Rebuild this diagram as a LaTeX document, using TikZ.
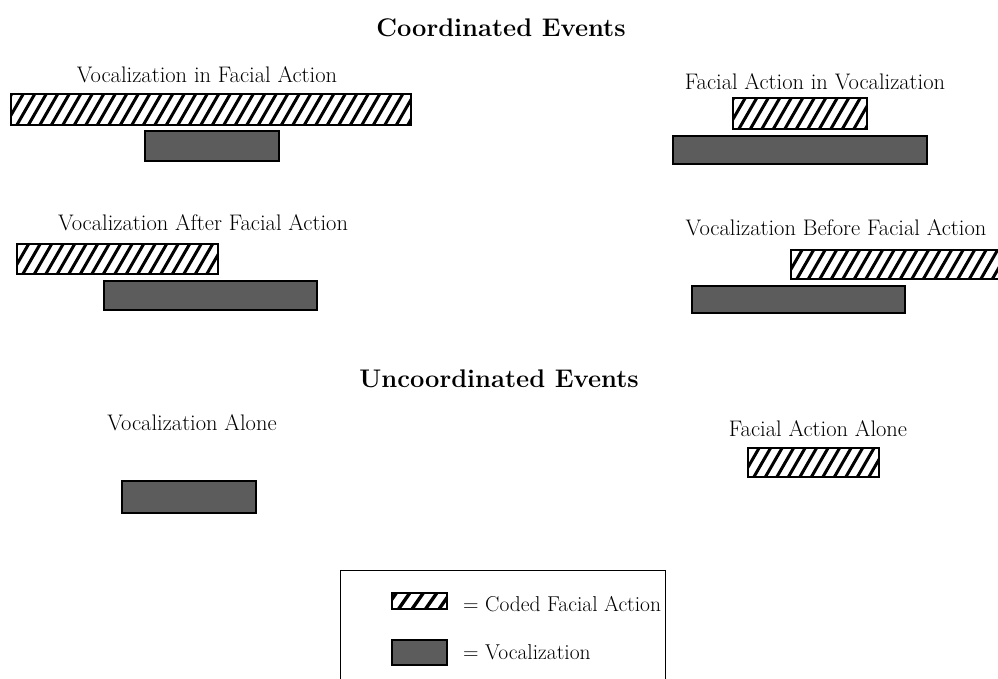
\documentclass[tikz,border=0pt]{standalone}
\tikzset{
  barbase/.style={draw=black, line width=1.8pt, inner sep=0pt, anchor=north west, rectangle},
  hatchbar/.style={barbase, path picture={
      \foreach \i in {-40,-28.5,...,430}
        \draw[line width=3pt] ([xshift=\i pt]path picture bounding box.south west) -- ++(60:70pt);
    }},
  leghatch/.style={barbase, line width=1.5pt, path picture={
      \foreach \i in {-20,-6.5,...,70}
        \draw[line width=3.4pt] ([xshift=\i pt]path picture bounding box.south west) -- ++(55:40pt);
    }},
  voicebar/.style={barbase, fill=black!64},
  lbl/.style={font=\fontsize{22.5}{25}\selectfont, inner sep=0pt},
  leglbl/.style={font=\fontsize{21.5}{25}\selectfont, inner sep=0pt, anchor=west},
  ttl/.style={font=\bfseries\fontsize{25.5}{28}\selectfont, inner sep=0pt},
  legbox/.style={draw=black, line width=1.2pt, inner sep=0pt, anchor=north west, rectangle}
}
\begin{document}
\begin{tikzpicture}[x=1pt,y=-1pt]
\useasboundingbox (0,0) rectangle (998,679);
\fill[white] (0,0) rectangle (998,679);
\begin{scope}
\clip (0,0) rectangle (998,679);
% titles
\node[ttl] (t1) at (501,28) {Coordinated Events};
\node[ttl] (t2) at (499,379) {Uncoordinated Events};
% group 1
\node[lbl] (l1) at (207,75) {Vocalization in Facial Action};
\node[hatchbar, minimum width=400pt, minimum height=31pt] (h1) at (10,93) {};
\node[voicebar, minimum width=134pt, minimum height=30pt] (v1) at (144,130) {};
% group 2
\node[lbl] (l2) at (815,82) {Facial Action in Vocalization};
\node[hatchbar, minimum width=134pt, minimum height=31pt] (h2) at (732,97) {};
\node[voicebar, minimum width=254pt, minimum height=28pt] (v2) at (672,135) {};
% group 3
\node[lbl] (l3) at (203,223) {Vocalization After Facial Action};
\node[hatchbar, minimum width=201pt, minimum height=30pt] (h3) at (16,243) {};
\node[voicebar, minimum width=213pt, minimum height=29pt] (v3) at (103,280) {};
% group 4
\node[lbl] (l4) at (836,228) {Vocalization Before Facial Action};
\node[hatchbar, minimum width=220pt, minimum height=29pt] (h4) at (790,249) {};
\node[voicebar, minimum width=213pt, minimum height=27pt] (v4) at (691,285) {};
% uncoordinated
\node[lbl] (l5) at (192,423) {Vocalization Alone};
\node[voicebar, minimum width=134pt, minimum height=32pt] (v5) at (121,480) {};
\node[lbl] (l6) at (818,429) {Facial Action Alone};
\node[hatchbar, minimum width=131pt, minimum height=29pt] (h6) at (747,447) {};
% legend
\node[legbox, minimum width=325pt, minimum height=130pt] (leg) at (340,570) {};
\node[leghatch, minimum width=55pt, minimum height=16pt] (lh) at (391,592) {};
\node[leglbl] (lt1) at (463,604) {= Coded Facial Action};
\node[voicebar, line width=1.5pt, minimum width=55pt, minimum height=25pt] (lv) at (391,639) {};
\node[leglbl] (lt2) at (463,652) {= Vocalization};
\end{scope}
\end{tikzpicture}
\end{document}
